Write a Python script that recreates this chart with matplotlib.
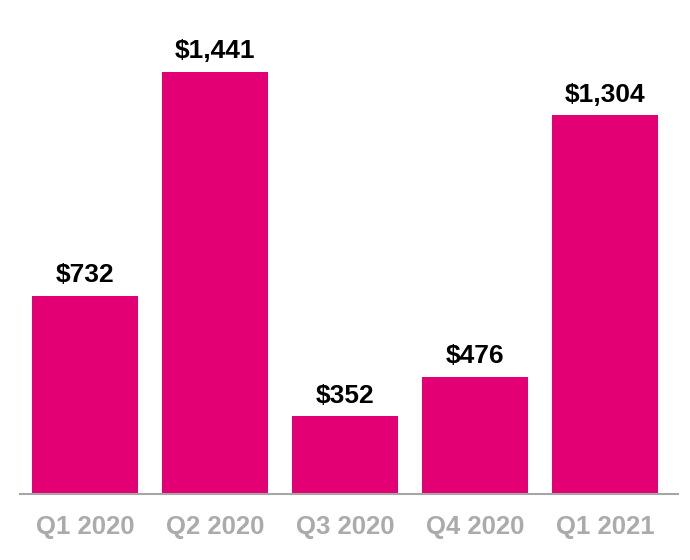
import matplotlib
matplotlib.use("Agg")
import matplotlib.pyplot as plt

categories = ["Q1 2020", "Q2 2020", "Q3 2020", "Q4 2020", "Q1 2021"]
values = [732, 1441, 352, 476, 1304]
labels = ["$732", "$1,441", "$352", "$476", "$1,304"]

plt.rcParams['font.family'] = ['Liberation Sans', 'DejaVu Sans']

fig = plt.figure(figsize=(6.9, 5.6), dpi=100)
ax = fig.add_axes([20/690, 1 - 494/560, 658/690, 494/560])
x = list(range(len(categories)))
ax.bar(x, values, width=0.815, color="#E20074", bottom=0)
ax.set_ylim(105, 1668)
ax.set_xlim(-0.5, 4.56)
for xi, v, lab in zip(x, values, labels):
    ax.annotate(lab, (xi, v), xytext=(0, 6), textcoords="offset points",
                ha="center", va="bottom", fontsize=19, fontweight="bold", color="black")
for s in ["top", "right", "left"]:
    ax.spines[s].set_visible(False)
ax.spines["bottom"].set_color("#A6A6A6")
ax.spines["bottom"].set_linewidth(1.5)
ax.set_yticks([])
ax.set_xticks(x)
ax.set_xticklabels(categories, fontsize=18.5, fontweight="bold", color="#ABABAB")
ax.tick_params(axis="x", length=0, pad=15)
fig.savefig("out.png", dpi=100)
